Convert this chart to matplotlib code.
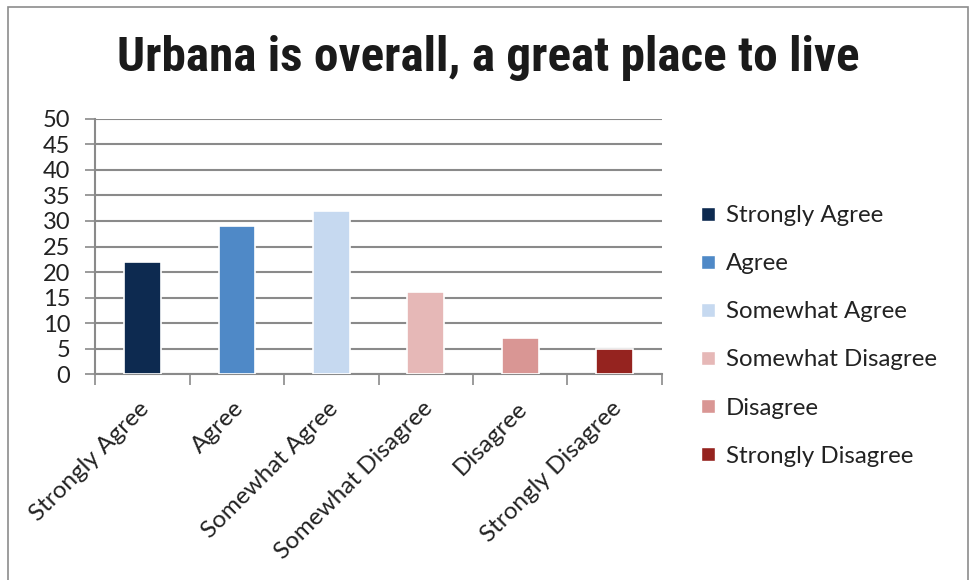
import matplotlib
matplotlib.use("Agg")
import matplotlib.pyplot as plt
from matplotlib.patches import Rectangle
from matplotlib.lines import Line2D

categories = ["Strongly Agree", "Agree", "Somewhat Agree",
              "Somewhat Disagree", "Disagree", "Strongly Disagree"]
counts = [22, 29, 32, 16, 7, 5]
bar_colors = ["#0d2a50", "#4f89c7", "#c6d9f0", "#e6b8b7", "#d99694", "#95231f"]
y_ticks = list(range(0, 55, 5))
title = "Urbana is overall, a great place to live"

label_font = ["Lato", "DejaVu Sans"]
title_font = ["Roboto Condensed", "Liberation Sans Narrow", "Roboto", "DejaVu Sans"]

fig = plt.figure(figsize=(9.72, 5.8), dpi=100)
ax = fig.add_axes([0.098, 0.355, 0.583, 0.44])

# outer chart frame
fig.add_artist(Rectangle((0.008, -0.05), 0.988, 1.038, transform=fig.transFigure,
                         fill=False, edgecolor="#8c8c8c", linewidth=1.2))

x = list(range(len(categories)))
ax.bar(x, counts, width=0.39, color=bar_colors, edgecolor="white",
       linewidth=1.2, zorder=3)

ax.set_xlim(-0.5, len(categories) - 0.5)
ax.set_ylim(0, 50)
ax.set_yticks(y_ticks)
ax.set_yticklabels([str(v) for v in y_ticks], fontsize=17, family=label_font,
                   color="#222222")
ax.yaxis.grid(True, color="#8a8a8a", linewidth=1.5, zorder=0)
ax.tick_params(axis="y", length=7, width=1.2, color="#8a8a8a", pad=11)

# category boundary ticks, labels centred under bars
ax.set_xticks([i - 0.5 for i in range(len(categories) + 1)])
ax.set_xticklabels([])
ax.tick_params(axis="x", length=8, width=1.2, color="#8a8a8a")
for i, name in enumerate(categories):
    ax.text(i - 0.04, -4.6, name, rotation=45, ha="right", va="top",
            rotation_mode="anchor", fontsize=17.5, family=label_font,
            color="#222222", transform=ax.transData, clip_on=False)

for side in ["top", "right"]:
    ax.spines[side].set_visible(False)
for side in ["left", "bottom"]:
    ax.spines[side].set_color("#8a8a8a")
    ax.spines[side].set_linewidth(1.5)

fig.text(0.502, 0.9, title, ha="center", va="center", fontsize=35.5,
         fontweight="bold", family=title_font, color="#1a1a1a")

handles = [Line2D([0], [0], marker="s", linestyle="none", markersize=10,
                  markerfacecolor=c, markeredgecolor="white")
           for c in bar_colors]
fig.legend(handles, categories, loc="center left", bbox_to_anchor=(0.695, 0.421),
           frameon=False, prop={"family": label_font, "size": 17.3},
           labelspacing=1.13, handletextpad=0.3, handlelength=0.9,
           labelcolor="#222222")

fig.savefig("out.png", dpi=100, facecolor="white")
